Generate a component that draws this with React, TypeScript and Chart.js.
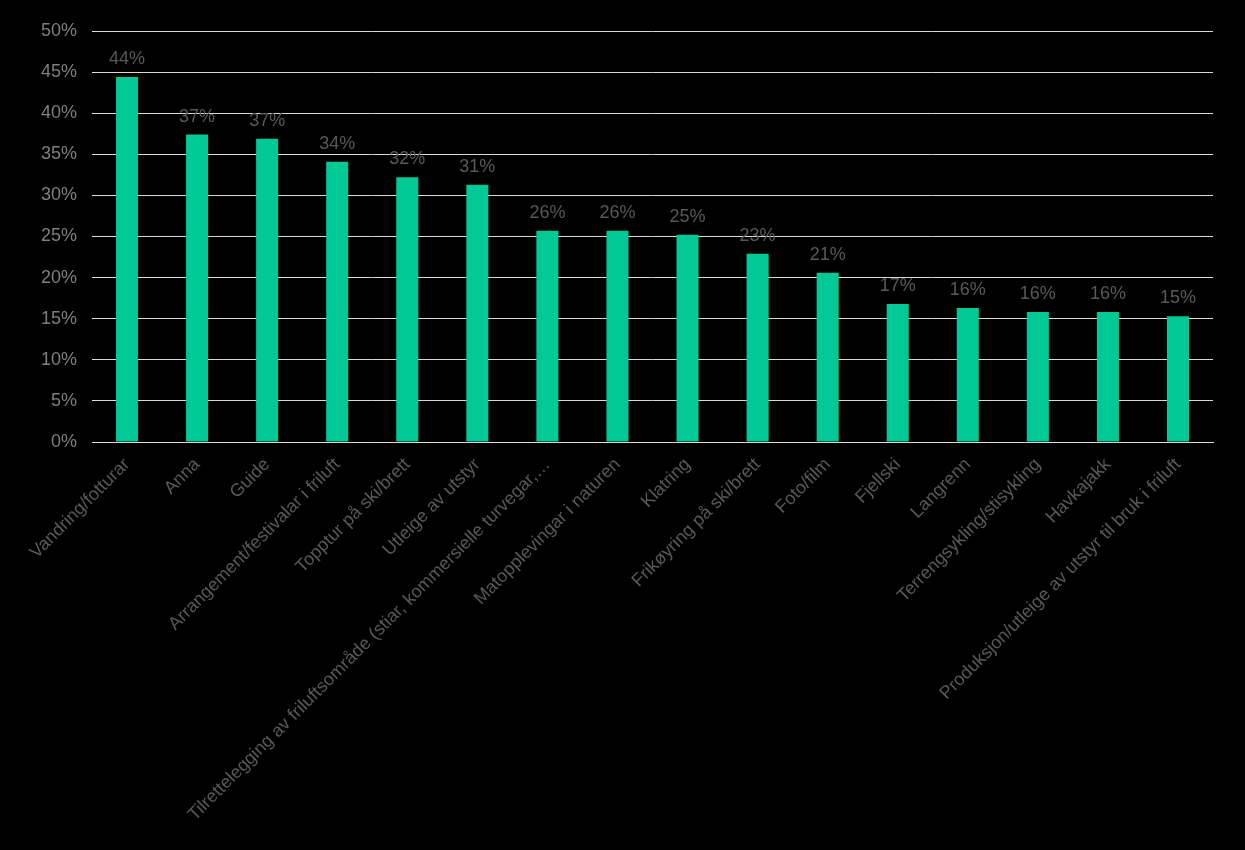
import React, { useEffect, useRef } from "react";
import { Chart, registerables } from "chart.js";

Chart.register(...registerables);

const categories: string[] = [
  "Vandring/fotturar",
  "Anna",
  "Guide",
  "Arrangement/festivalar i friluft",
  "Topptur på ski/brett",
  "Utleige av utstyr",
  "Tilrettelegging av friluftsområde (stiar, kommersielle turvegar,…",
  "Matopplevingar i naturen",
  "Klatring",
  "Frikøyring på ski/brett",
  "Foto/film",
  "Fjellski",
  "Langrenn",
  "Terrengsykling/stisykling",
  "Havkajakk",
  "Produksjon/utleige av utstyr til bruk i friluft",
];

const values: number[] = [44.4, 37.4, 36.9, 34.1, 32.2, 31.3, 25.7, 25.7, 25.2, 22.9, 20.6, 16.8, 16.3, 15.8, 15.8, 15.3];

const yTicks: number[] = [0, 5, 10, 15, 20, 25, 30, 35, 40, 45, 50];

const FONT = "'Liberation Sans', Arial, sans-serif";

const labelPlugin = {
  id: "barLabels",
  afterDatasetsDraw(chart: any) {
    const ctx = chart.ctx;
    const meta = chart.getDatasetMeta(0);
    ctx.save();
    ctx.font = `18px ${FONT}`;
    ctx.fillStyle = "#595959";
    ctx.textAlign = "center";
    ctx.textBaseline = "bottom";
    meta.data.forEach((el: any, i: number) => {
      ctx.fillText(`${Math.round(values[i])}%`, el.x, el.y - 9);
    });
    ctx.restore();
  },
};

export default function App() {
  const ref = useRef<HTMLCanvasElement | null>(null);
  useEffect(() => {
    document.body.style.margin = "0";
    document.body.style.background = "#000";
    const chart = new Chart(ref.current as HTMLCanvasElement, {
      type: "bar",
      data: {
        labels: categories,
        datasets: [
          {
            data: values,
            backgroundColor: "#00C996",
            barPercentage: 0.63,
            categoryPercentage: 0.5,
          },
        ],
      },
      options: {
        animation: false,
        responsive: false,
        maintainAspectRatio: false,
        layout: { padding: { left: 8, right: 32, top: 31, bottom: 0 } },
        plugins: { legend: { display: false }, tooltip: { enabled: false } },
        scales: {
          x: {
            grid: { display: false, drawTicks: false },
            border: { display: true, color: "#d9d9d9", width: 1 },
            ticks: {
              color: "#595959",
              font: { family: FONT, size: 18 },
              maxRotation: 45,
              minRotation: 45,
              autoSkip: false,
              padding: 12,
            },
            afterFit: (s: any) => {
              s.height = 408;
            },
          },
          y: {
            min: 0,
            max: 50,
            afterBuildTicks: (s: any) => {
              s.ticks = yTicks.map((v) => ({ value: v }));
            },
            grid: { color: "#d9d9d9", lineWidth: 1, drawTicks: false },
            border: { display: false },
            ticks: {
              color: "#7f7f7f",
              font: { family: FONT, size: 18 },
              padding: 15,
              callback: (v: any) => `${v}%`,
            },
            afterFit: (s: any) => {
              s.width = 84;
            },
          },
        },
      },
      plugins: [labelPlugin],
    });
    return () => chart.destroy();
  }, []);
  return (
    <div style={{ position: "absolute", left: 0, top: 0, width: 1245, height: 850, background: "#000" }}>
      <canvas ref={ref} width={1245} height={850} style={{ display: "block" }} />
    </div>
  );
}
